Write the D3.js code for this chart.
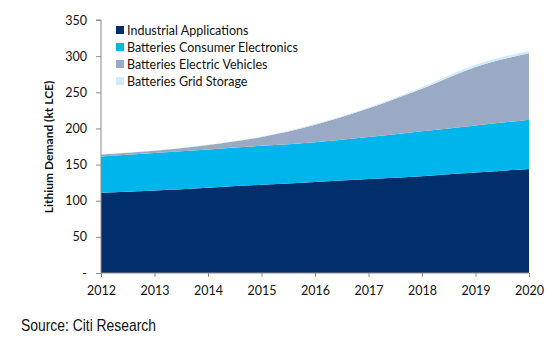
<!DOCTYPE html>
<html><head><meta charset="utf-8">
<script src="https://cdn.jsdelivr.net/npm/d3@7"></script>
<style>
body{margin:0;background:#fff;}
</style></head>
<body><svg id="c" width="552" height="340"></svg>
<script>
const years = [2012, 2013, 2014, 2015, 2016, 2017, 2018, 2019, 2020];
const seriesNames = ["Industrial Applications", "Batteries Consumer Electronics", "Batteries Electric Vehicles", "Batteries Grid Storage"];
const industrial = [111, 114, 118, 122, 126, 130, 134, 139, 144];
const consumer   = [50, 52, 53, 54, 55, 58, 62, 65, 68];
const ev         = [3, 3, 6, 12, 24, 40, 59, 81, 92];
const grid       = [0.5, 0.5, 0.5, 0.5, 1, 1, 2, 3, 3];
const yTicks = [0, 50, 100, 150, 200, 250, 300, 350];
const colors = ["#002f6c", "#00b5ec", "#9aaac4", "#cfeaf8"];

const rows = years.map((y, i) => ({year: y, s0: industrial[i], s1: consumer[i], s2: ev[i], s3: grid[i]}));
const keys = ["s0", "s1", "s2", "s3"];
const stack = d3.stack().keys(keys)(rows);

const svg = d3.select("#c");
const L = 101, R = 529, T = 20, B = 273;
const x = d3.scaleLinear().domain([2012, 2020]).range([L, R]);
const y = d3.scaleLinear().domain([0, 350]).range([B, T]);
const F = "Lato, 'Open Sans', sans-serif";

const area = d3.area().x(d => x(d.data.year)).y0(d => y(d[0])).y1(d => y(d[1])).curve(d3.curveMonotoneX);
svg.append("g").selectAll("path").data(stack).join("path")
  .attr("d", area).attr("fill", (d, i) => colors[i]);

// Y axis
const yAxis = d3.axisLeft(y).tickValues(yTicks).tickSize(5).tickPadding(9)
  .tickFormat(d => d === 0 ? "-" : d);
const gy = svg.append("g").attr("transform", `translate(${L},0)`).call(yAxis);
gy.selectAll("path,line").attr("stroke", "#8c8c8c");
gy.select(".domain").attr("d", `M-5,${T}H0V${B}`);
gy.selectAll("text").attr("font-size", 12.5).attr("fill", "#111").attr("font-family", F);

// X axis
const xAxis = d3.axisBottom(x).tickValues(years).tickSize(4).tickPadding(9).tickFormat(d3.format("d"));
const gx = svg.append("g").attr("transform", `translate(0,${B})`).call(xAxis);
gx.selectAll("path,line").attr("stroke", "#8c8c8c");
gx.select(".domain").attr("d", `M${L},0H${R}`);
gx.selectAll("text").attr("font-size", 12.5).attr("fill", "#111").attr("font-family", F);

// Y title
svg.append("text").attr("transform", "translate(53,147) rotate(-90)")
  .attr("text-anchor", "middle").attr("font-size", 12).attr("font-weight", "bold").attr("fill", "#111")
  .attr("font-family", F)
  .text("Lithium Demand (kt LCE)");

// Legend
const lg = svg.append("g");
seriesNames.forEach((n, i) => {
  const yy = 30 + i * 17;
  lg.append("rect").attr("x", 116).attr("y", yy - 4).attr("width", 8).attr("height", 8).attr("fill", colors[i]);
  lg.append("text").attr("x", 127).attr("y", yy + 4.5).attr("font-size", 12.5).attr("fill", "#111")
    .attr("font-family", F).text(n);
});

// Source
svg.append("text").attr("x", 21).attr("y", 331).attr("font-family", "'Liberation Sans', Arial, sans-serif")
  .attr("font-size", 17).attr("fill", "#111")
  .attr("textLength", 135).attr("lengthAdjust", "spacingAndGlyphs")
  .text("Source: Citi Research");
</script></body></html>
